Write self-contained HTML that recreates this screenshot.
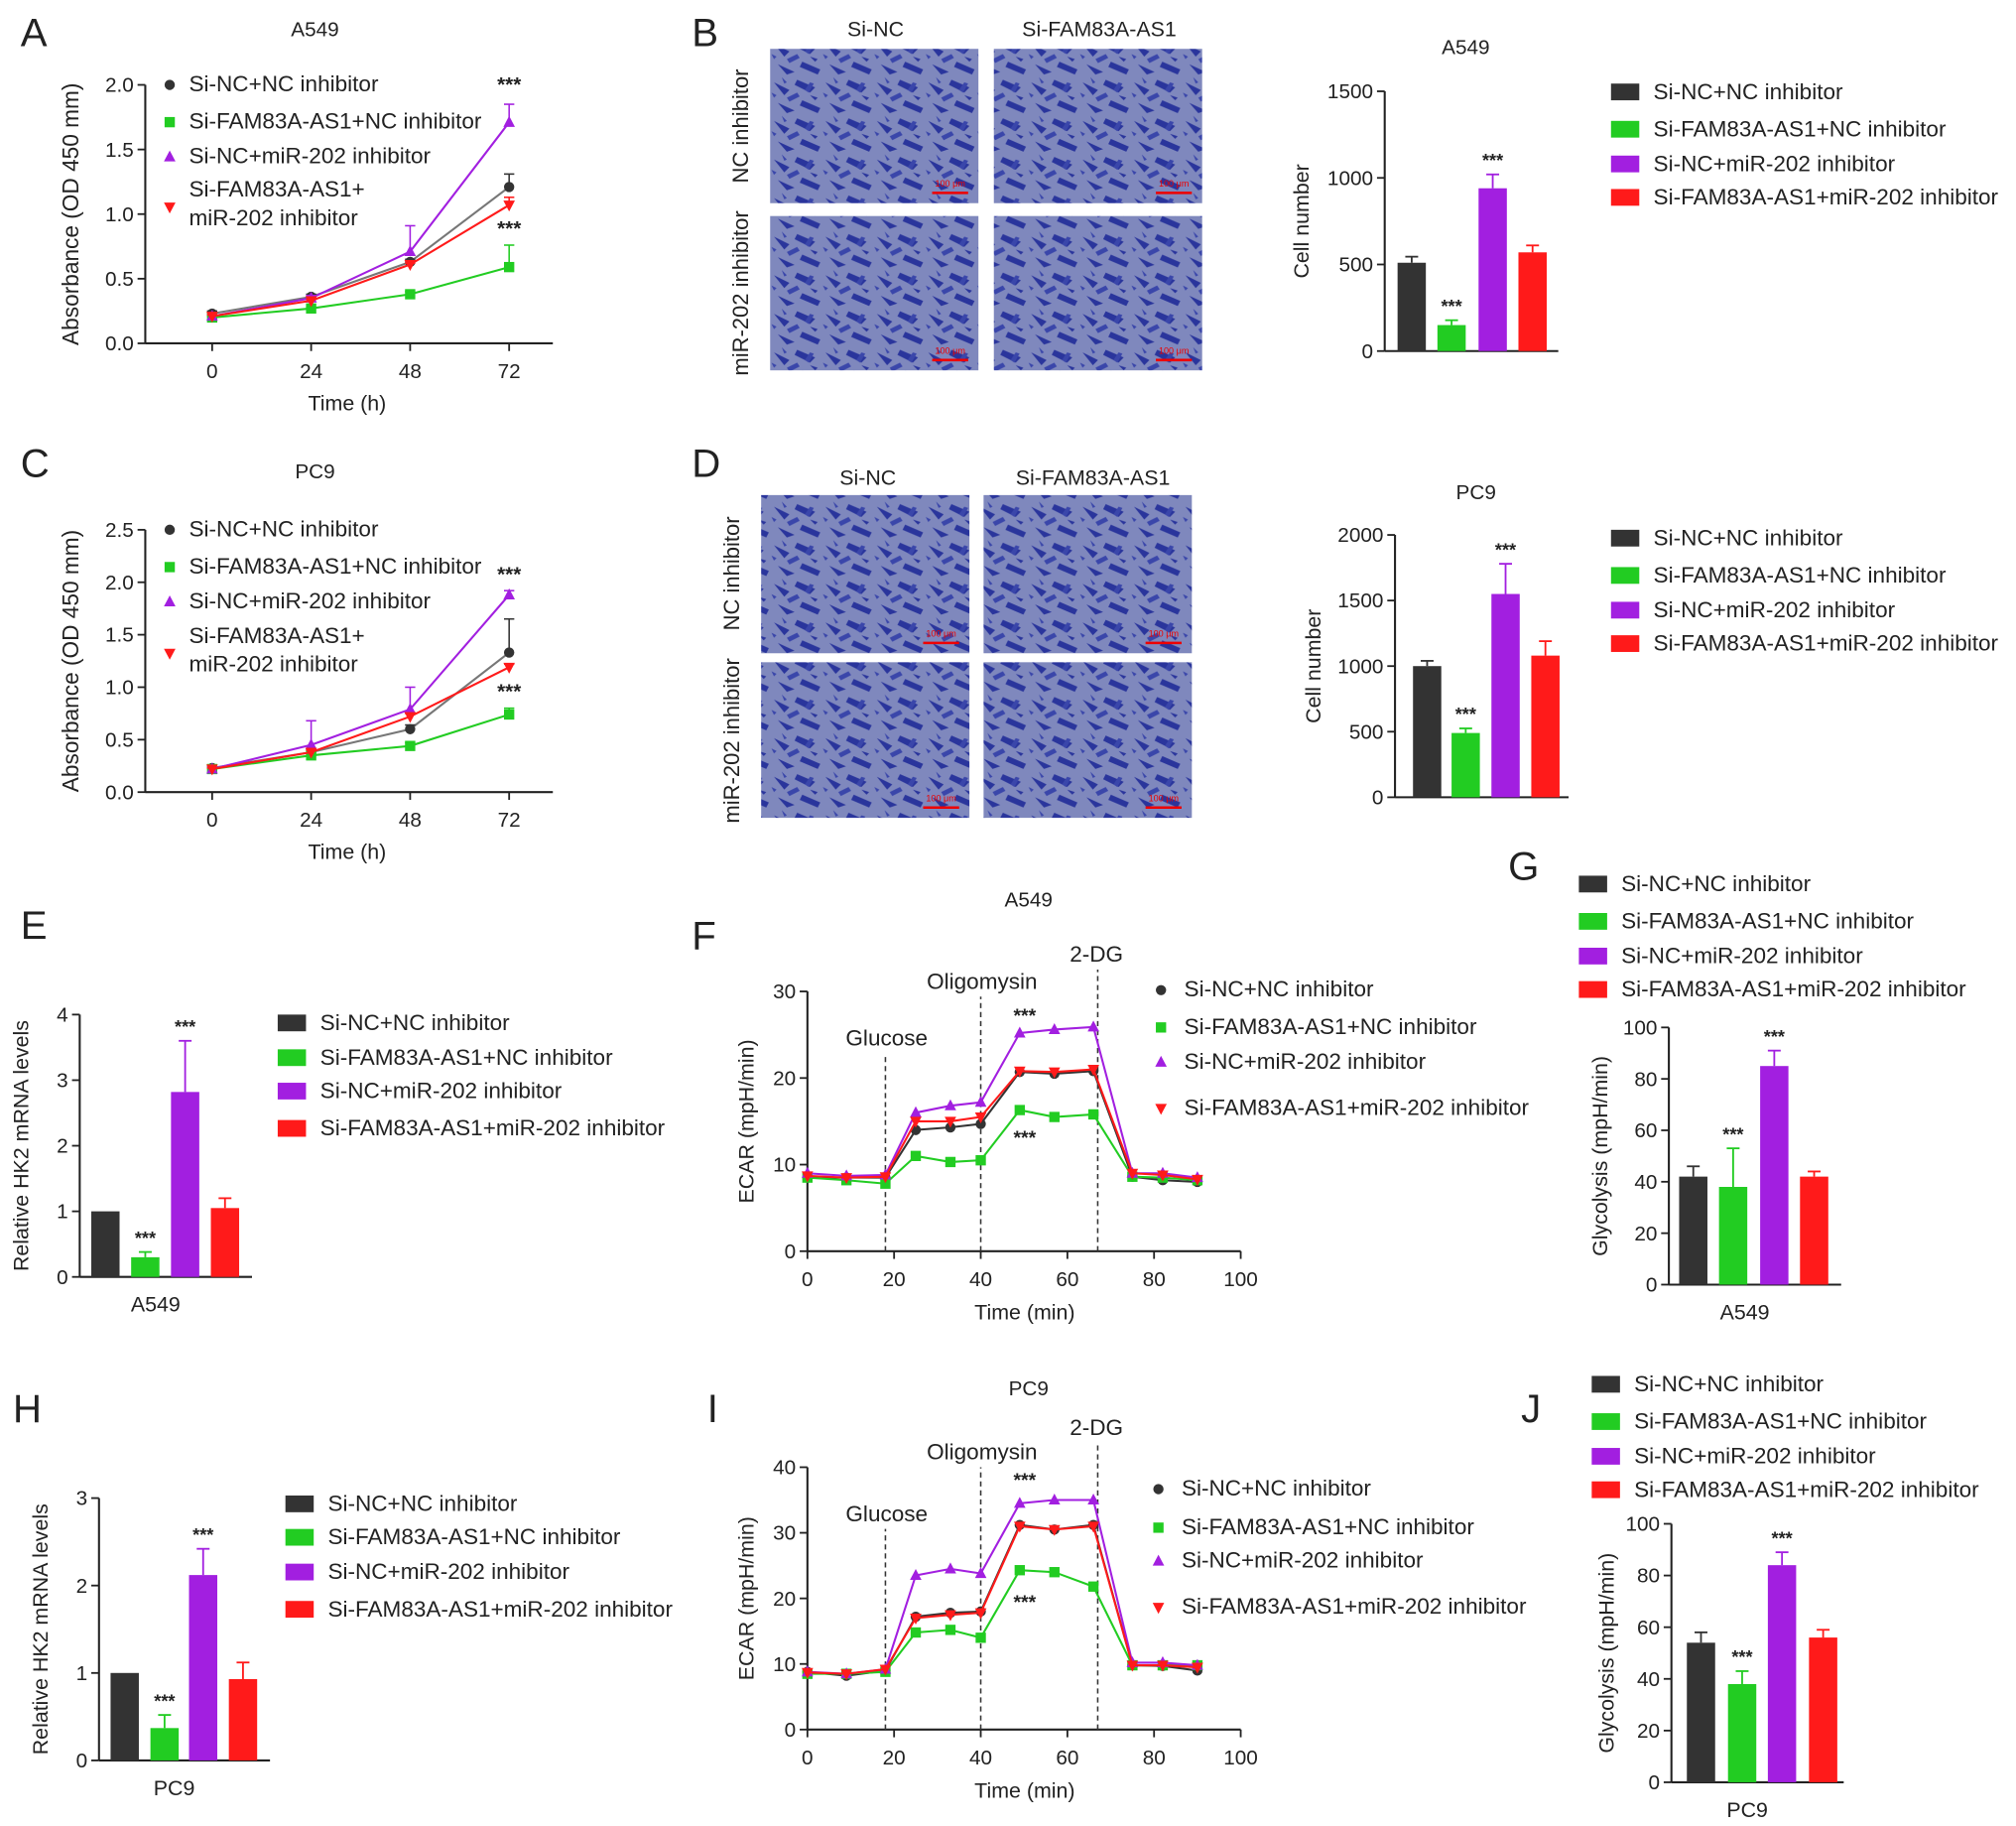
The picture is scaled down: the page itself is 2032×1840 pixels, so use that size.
<!DOCTYPE html>
<html><head><meta charset="utf-8"><style>
html,body{margin:0;padding:0;background:#fff}
svg{display:block}
text{font-family:"Liberation Sans",Arial,sans-serif;fill:#222}
</style></head><body>
<svg id="fig" xmlns="http://www.w3.org/2000/svg" width="2032" height="1840" viewBox="0 0 1568 1420" preserveAspectRatio="none">
<defs>
<pattern id="cells" width="40" height="30" patternUnits="userSpaceOnUse">
<rect width="40" height="30" fill="#7f88bd"/>
<path d="M2 4 L14 10 L10 14 Z M20 2 L34 8 L30 12 L18 6Z M5 20 L18 26 L12 28Z M24 18 L38 24 L36 28 L22 22Z M30 14 L36 16 L34 18Z" fill="#2a359c"/>
<path d="M12 16 L20 12 L22 15 L14 19Z M0 12 L4 14 L2 16Z M26 10 L30 4 L33 5 L29 12Z M8 0 L12 4 L10 5Z" fill="#3a46aa"/>
</pattern>
</defs>
</svg>
<script>
// ---------- data ----------
const groups = ["Si-NC+NC inhibitor","Si-FAM83A-AS1+NC inhibitor","Si-NC+miR-202 inhibitor","Si-FAM83A-AS1+miR-202 inhibitor"];
const colors = ["#333333","#22cc22","#a21fe0","#ff1a1a"];
const cckTimes = [0,24,48,72];
const cckA_black = [0.23,0.36,0.63,1.21];
const cckA_green = [0.20,0.27,0.38,0.59];
const cckA_purple = [0.21,0.35,0.71,1.71];
const cckA_red = [0.21,0.33,0.61,1.07];
const cckA_errTop = [[0.25,0.38,0.65,1.31],[0.21,0.28,0.40,0.76],[0.22,0.37,0.91,1.85],[0.22,0.34,0.62,1.13]];
const cckC_black = [0.23,0.38,0.60,1.33];
const cckC_green = [0.22,0.35,0.44,0.74];
const cckC_purple = [0.22,0.45,0.79,1.88];
const cckC_red = [0.22,0.38,0.72,1.19];
const cckC_errTop = [[0.25,0.40,0.64,1.65],[0.23,0.36,0.47,0.80],[0.24,0.68,1.00,1.92],[0.23,0.40,0.75,1.22]];
const cellsB = [510,150,940,570];
const cellsB_err = [545,178,1020,610];
const cellsD = [1000,490,1550,1080];
const cellsD_err = [1040,525,1780,1190];
const hk2E = [1,0.30,2.82,1.05];
const hk2E_err = [1,0.38,3.60,1.20];
const hk2H = [1,0.37,2.12,0.93];
const hk2H_err = [1,0.52,2.42,1.12];
const glyG = [42,38,85,42];
const glyG_err = [46,53,91,44];
const glyJ = [54,38,84,56];
const glyJ_err = [58,43,89,59];
const ecarTimes = [0,9,18,25,33,40,49,57,66,75,82,90];
const ecarF_black = [8.5,8.5,8.5,14,14.3,14.7,20.7,20.5,20.8,8.6,8.2,8];
const ecarF_green = [8.5,8.2,7.8,11,10.3,10.5,16.3,15.5,15.8,8.6,8.5,8.2];
const ecarF_purple = [9,8.7,8.8,16,16.8,17.2,25.2,25.6,25.9,9,9,8.5];
const ecarF_red = [8.7,8.5,8.6,15,15,15.5,20.8,20.7,21,9,8.8,8.3];
const ecarI_black = [8.8,8.2,9,17.2,17.8,18,31.2,30.5,31.2,9.8,9.7,9];
const ecarI_green = [8.5,8.5,8.8,14.8,15.2,14,24.3,24,21.8,9.8,9.8,9.8];
const ecarI_purple = [8.8,8.5,9.2,23.5,24.5,23.8,34.5,35,35,10.2,10.2,9.8];
const ecarI_red = [8.7,8.5,9.2,17,17.5,17.8,31,30.5,31,9.8,9.8,9.5];

// ---------- helpers ----------
const NS="http://www.w3.org/2000/svg";
const svg=document.getElementById('fig');
const LEG=17.4, TICK=16, LAB=16.5;
function mk(tag,attrs,parent){const e=document.createElementNS(NS,tag);for(const k in attrs)e.setAttribute(k,attrs[k]);(parent||svg).appendChild(e);return e;}
function txt(s,x,y,size,anchor,parent,extra){const t=mk('text',Object.assign({x:x,y:y,'font-size':size,'text-anchor':anchor||'start'},extra||{}),parent);t.textContent=s;return t;}
function group(name){const g=mk('g',{});return g;}
function marker(g,shape,x,y,c){
  if(shape===0) mk('circle',{cx:x,cy:y,r:4,fill:c},g);
  else if(shape===1) mk('rect',{x:x-4,y:y-4,width:8,height:8,fill:c},g);
  else if(shape===2) mk('path',{d:`M${x} ${y-5}L${x+4.5} ${y+3.5}L${x-4.5} ${y+3.5}Z`,fill:c},g);
  else mk('path',{d:`M${x} ${y+5}L${x+4.5} ${y-3.5}L${x-4.5} ${y-3.5}Z`,fill:c},g);
}
function yAxis(g,x,y0,y1,vmin,vmax,ticks,fmt){
  mk('line',{x1:x,y1:y0,x2:x,y2:y1,stroke:'#222','stroke-width':1.6},g);
  const sc=v=>y0-(v-vmin)/(vmax-vmin)*(y0-y1);
  ticks.forEach(t=>{const y=sc(t);mk('line',{x1:x-6,y1:y,x2:x,y2:y,stroke:'#222','stroke-width':1.4},g);txt(fmt?fmt(t):String(t),x-9,y+5.5,TICK,'end',g);});
  return sc;
}
function letter(s,x,y){const t=txt(s,x,y,31,'start');}
function ylabel(g,s,x,cy,size){txt(s,x,cy,size||LAB,'middle',g,{transform:`rotate(-90 ${x} ${cy})`});}

// ---------- CCK-8 line charts ----------
function cck(name,series,errs,cfg){
  const g=group(name);
  txt(cfg.title,245,cfg.titleY,16,'middle',g);
  const ys=yAxis(g,113,cfg.y0,cfg.yTop,0,cfg.vmax,cfg.ticks,t=>t.toFixed(1));
  const xs=v=>165+v/72*231;
  mk('line',{x1:113,y1:cfg.y0,x2:430,y2:cfg.y0,stroke:'#222','stroke-width':1.6},g);
  cckTimes.forEach(t=>{mk('line',{x1:xs(t),y1:cfg.y0,x2:xs(t),y2:cfg.y0+6,stroke:'#222','stroke-width':1.4},g);txt(String(t),xs(t),cfg.y0+27,TICK,'middle',g);});
  txt('Time (h)',270,cfg.y0+52,LAB,'middle',g);
  ylabel(g,'Absorbance (OD 450 mm)',61,(cfg.y0+cfg.yTop)/2,17.5);
  series.forEach((s,i)=>{
    const sg=mk('g',{},g);
    mk('polyline',{points:s.map((v,j)=>xs(cckTimes[j])+','+ys(v)).join(' '),fill:'none',stroke:i===0?'#777':colors[i],'stroke-width':1.6},sg);
    s.forEach((v,j)=>{const x=xs(cckTimes[j]);const e=errs[i][j];
      mk('line',{x1:x,y1:ys(v),x2:x,y2:ys(e),stroke:colors[i],'stroke-width':1.2},sg);
      mk('line',{x1:x-4,y1:ys(e),x2:x+4,y2:ys(e),stroke:colors[i],'stroke-width':1.2},sg);
      marker(sg,i,x,ys(v),colors[i]);});
  });
  cfg.stars.forEach(s=>txt('***',396,s,16,'middle',g,{'font-weight':'bold'}));
  const lg=group(name+'-legend');
  const labs=[groups[0],groups[1],groups[2],'Si-FAM83A-AS1+'];
  cfg.leg.forEach((y,i)=>{marker(lg,i,132,i===3?y+8:y-5,colors[i]);txt(labs[i],147,y,LEG,'start',lg);});
  txt('miR-202 inhibitor',147,cfg.leg[3]+22,LEG,'start',lg);
}
letter('A',16,36);
cck('chart-a-cck8',[cckA_black,cckA_green,cckA_purple,cckA_red],cckA_errTop,{title:'A549',titleY:28,y0:267,yTop:66,vmax:2,ticks:[0,0.5,1,1.5,2],stars:[71,183],leg:[71,100,127,153]});
letter('C',16,371);
cck('chart-c-cck8',[cckC_black,cckC_green,cckC_purple,cckC_red],cckC_errTop,{title:'PC9',titleY:372,y0:616,yTop:412,vmax:2.5,ticks:[0,0.5,1,1.5,2,2.5],stars:[452,543],leg:[417,446,473,500]});

// ---------- Transwell images ----------
function images(name,rects,cols,rows,colY,rowX){
  const g=group(name);
  rects.forEach((r,i)=>{const im=mk('rect',{x:r[0],y:r[1],width:r[2]-r[0],height:r[3]-r[1],fill:'url(#cells)'},g);
    
    mk('line',{x1:r[2]-36,y1:r[3]-8,x2:r[2]-8,y2:r[3]-8,stroke:'#e00','stroke-width':2},g);
    txt('100 μm',r[2]-22,r[3]-13,7,'middle',g,{style:'fill:#e00'});});
  cols.forEach(c=>txt(c[0],c[1],colY,16.5,'middle',g));
  rows.forEach(c=>ylabel(g,c[0],rowX,c[1],17));
}
letter('B',538,36);
images('transwell-a549',[[599,38,761,158],[773,38,935,158],[599,168,761,288],[773,168,935,288]],[['Si-NC',681],['Si-FAM83A-AS1',855]],[['NC inhibitor',98],['miR-202 inhibitor',228]],28,582);
letter('D',538,371);
images('transwell-pc9',[[592,385,754,508],[765,385,927,508],[592,515,754,636],[765,515,927,636]],[['Si-NC',675],['Si-FAM83A-AS1',850]],[['NC inhibitor',446],['miR-202 inhibitor',576]],377,575);

// ---------- bar charts ----------
function bars(name,vals,errs,cfg){
  const g=group(name);
  const ys=yAxis(g,cfg.ax,cfg.y0,cfg.yTop,0,cfg.vmax,cfg.ticks);
  mk('line',{x1:cfg.ax,y1:cfg.y0,x2:cfg.xEnd,y2:cfg.y0,stroke:'#222','stroke-width':1.6},g);
  if(cfg.title) txt(cfg.title,cfg.titleX,cfg.titleY,16,'middle',g);
  if(cfg.xlab) txt(cfg.xlab,(cfg.ax+cfg.xEnd)/2-8,cfg.y0+27,LAB,'middle',g);
  ylabel(g,cfg.ylab,cfg.ylx,(cfg.y0+cfg.yTop)/2,LAB);
  vals.forEach((v,i)=>{const x=cfg.bx[i];
    if(errs[i]>v){mk('line',{x1:x,y1:ys(v),x2:x,y2:ys(errs[i]),stroke:colors[i],'stroke-width':1.4},g);
      mk('line',{x1:x-5,y1:ys(errs[i]),x2:x+5,y2:ys(errs[i]),stroke:colors[i],'stroke-width':1.4},g);}
    const b=mk('rect',{x:x-11,y:ys(v),width:22,height:cfg.y0-ys(v),fill:colors[i]},g);
    
  });
  cfg.stars.forEach(s=>txt('***',cfg.bx[s[0]],ys(errs[s[0]])-6,14,'middle',g,{'font-weight':'bold'}));
  const lg=group(name+'-legend');
  cfg.leg.forEach((y,i)=>{mk('rect',{x:cfg.lx,y:y-12,width:22,height:13,fill:colors[i]},lg);txt(groups[i],cfg.lx+33,y,LEG,'start',lg);});
}
bars('bar-b-cell-number',cellsB,cellsB_err,{ax:1077,xEnd:1212,y0:273,yTop:71,vmax:1500,ticks:[0,500,1000,1500],bx:[1098,1129,1161,1192],title:'A549',titleX:1140,titleY:42,ylab:'Cell number',ylx:1018,stars:[[1,0],[2,0]],lx:1253,leg:[77,106,133,159]});
bars('bar-d-cell-number',cellsD,cellsD_err,{ax:1085,xEnd:1220,y0:620,yTop:416,vmax:2000,ticks:[0,500,1000,1500,2000],bx:[1110,1140,1171,1202],title:'PC9',titleX:1148,titleY:388,ylab:'Cell number',ylx:1027,stars:[[1,0],[2,0]],lx:1253,leg:[424,453,480,506]});
letter('E',16,730);
bars('bar-e-hk2',hk2E,hk2E_err,{ax:62,xEnd:196,y0:993,yTop:789,vmax:4,ticks:[0,1,2,3,4],bx:[82,113,144,175],xlab:'A549',ylab:'Relative HK2 mRNA levels',ylx:22,stars:[[1],[2]],lx:216,leg:[801,828,854,883]});
letter('H',10,1106);
bars('bar-h-hk2',hk2H,hk2H_err,{ax:77,xEnd:210,y0:1369,yTop:1165,vmax:3,ticks:[0,1,2,3],bx:[97,128,158,189],xlab:'PC9',ylab:'Relative HK2 mRNA levels',ylx:37,stars:[[1],[2]],lx:222,leg:[1175,1201,1228,1257]});
letter('G',1173,684);
bars('bar-g-glycolysis',glyG,glyG_err,{ax:1298,xEnd:1432,y0:999,yTop:799,vmax:100,ticks:[0,20,40,60,80,100],bx:[1317,1348,1380,1411],xlab:'A549',ylab:'Glycolysis (mpH/min)',ylx:1250,stars:[[1],[2]],lx:1228,leg:[693,722,749,775]});
letter('J',1183,1106);
bars('bar-j-glycolysis',glyJ,glyJ_err,{ax:1300,xEnd:1434,y0:1386,yTop:1185,vmax:100,ticks:[0,20,40,60,80,100],bx:[1323,1355,1386,1418],xlab:'PC9',ylab:'Glycolysis (mpH/min)',ylx:1255,stars:[[1],[2]],lx:1238,leg:[1082,1111,1138,1164]});

// ---------- ECAR charts ----------
function ecar(name,series,cfg){
  const g=group(name);
  const xs=v=>628+v/100*337;
  const ys=yAxis(g,628,cfg.y0,cfg.yTop,0,cfg.vmax,cfg.ticks);
  mk('line',{x1:628,y1:cfg.y0,x2:965,y2:cfg.y0,stroke:'#222','stroke-width':1.6},g);
  [0,20,40,60,80,100].forEach(t=>{mk('line',{x1:xs(t),y1:cfg.y0,x2:xs(t),y2:cfg.y0+6,stroke:'#222','stroke-width':1.4},g);txt(String(t),xs(t),cfg.y0+27,TICK,'middle',g);});
  txt('Time (min)',797,cfg.y0+53,LAB,'middle',g);
  txt(cfg.title,800,cfg.titleY,16,'middle',g);
  ylabel(g,'ECAR (mpH/min)',586,(cfg.y0+cfg.yTop)/2,LAB);
  [[18,'Glucose',cfg.labY[0]],[40,'Oligomysin',cfg.labY[1]],[67,'2-DG',cfg.labY[2]]].forEach(d=>{
    mk('line',{x1:xs(d[0]),y1:cfg.y0,x2:xs(d[0]),y2:d[2]+6,stroke:'#333','stroke-width':1.2,'stroke-dasharray':'4 3'},g);
    txt(d[1],xs(d[0])+(d[0]===67?-1:1),d[2],LEG,'middle',g);});
  series.forEach((s,i)=>{
    const sg=mk('g',{},g);
    mk('polyline',{points:s.map((v,j)=>xs(ecarTimes[j])+','+ys(v)).join(' '),fill:'none',stroke:colors[i],'stroke-width':1.6},sg);
    s.forEach((v,j)=>marker(sg,i,xs(ecarTimes[j]),ys(v),colors[i]));
  });
  cfg.stars.forEach(y=>txt('***',797,y,15,'middle',g,{'font-weight':'bold'}));
  const lg=group(name+'-legend');
  cfg.leg.forEach((y,i)=>{marker(lg,i,cfg.mx,y-5,colors[i]);txt(groups[i],cfg.mx+18,y,LEG,'start',lg);});
}
letter('F',538,738);
ecar('chart-f-ecar',[ecarF_black,ecarF_green,ecarF_purple,ecarF_red],{y0:973,yTop:771,vmax:30,ticks:[0,10,20,30],title:'A549',titleY:705,labY:[813,769,748],stars:[795,890],mx:903,leg:[775,804,831,867]});
letter('I',550,1106);
ecar('chart-i-ecar',[ecarI_black,ecarI_green,ecarI_purple,ecarI_red],{y0:1345,yTop:1141,vmax:40,ticks:[0,10,20,30,40],title:'PC9',titleY:1085,labY:[1183,1135,1116],stars:[1156,1251],mx:901,leg:[1163,1193,1219,1255]});
</script>
</body></html>
